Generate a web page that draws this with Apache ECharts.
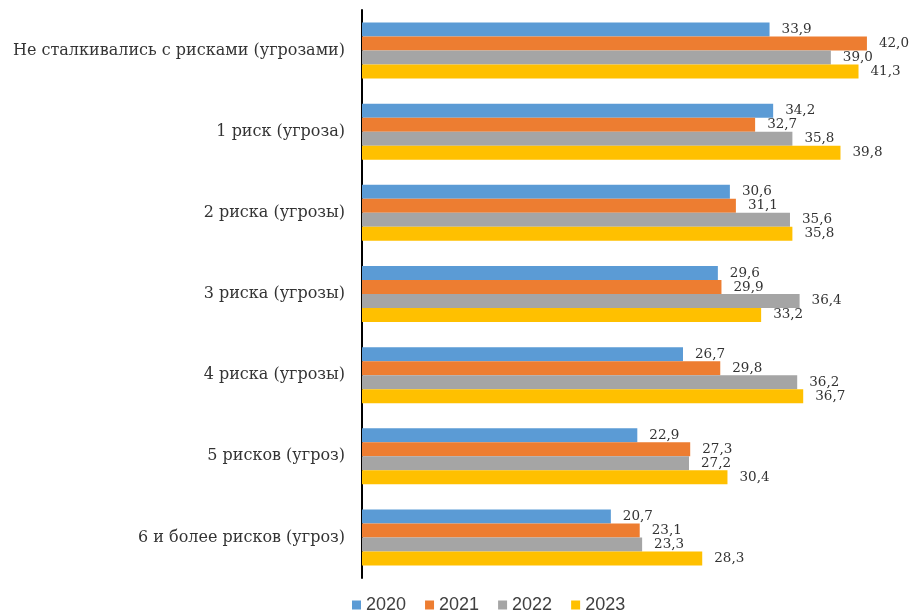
<!DOCTYPE html>
<html>
<head>
<meta charset="utf-8">
<script src="https://cdn.jsdelivr.net/npm/echarts@6/dist/echarts.min.js"></script>
<style>
  html, body { margin: 0; padding: 0; background: #fff; }
  #chart { width: 912px; height: 614px; }
</style>
</head>
<body>
<div id="chart"></div>
<script>
var categories = [
  'Не сталкивались с рисками (угрозами)',
  '1 риск (угроза)',
  '2 риска (угрозы)',
  '3 риска (угрозы)',
  '4 риска (угрозы)',
  '5 рисков (угроз)',
  '6 и более рисков (угроз)'
];
var years = ['2020', '2021', '2022', '2023'];
var colors = ['#5b9bd5', '#ed7d31', '#a5a5a5', '#ffc000'];
var v2020 = [33.9, 34.2, 30.6, 29.6, 26.7, 22.9, 20.7];
var v2021 = [42.0, 32.7, 31.1, 29.9, 29.8, 27.3, 23.1];
var v2022 = [39.0, 35.8, 35.6, 36.4, 36.2, 27.2, 23.3];
var v2023 = [41.3, 39.8, 35.8, 33.2, 36.7, 30.4, 28.3];
var values = [v2020, v2021, v2022, v2023];

var mychart = echarts.init(document.getElementById('chart'));

var series = [];
for (var i = 0; i < years.length; i++) {
  series.push({
    name: years[i],
    type: 'bar',
    data: values[i],
    barGap: '0%',
    barCategoryGap: '31%',
    itemStyle: { color: colors[i] },
    label: {
      show: true,
      position: 'right',
      distance: 12,
      color: '#333',
      fontFamily: 'DejaVu Serif',
      fontSize: 13.5,
      formatter: function(p) {
        return p.value.toFixed(1).replace('.', ',');
      }
    }
  });
}

var options = {
  animation: false,
  color: colors,
  grid: { left: 362, right: 9, top: 10, bottom: 36 },
  legend: {
    data: years,
    top: 591,
    left: 347,
    itemWidth: 9,
    itemHeight: 9,
    itemGap: 19,
    icon: 'rect',
    textStyle: { fontFamily: 'Liberation Sans', fontSize: 18, color: '#404040' }
  },
  xAxis: {
    type: 'value',
    min: 0,
    max: 45,
    show: false
  },
  yAxis: {
    type: 'category',
    data: categories,
    inverse: true,
    axisLine: { show: true, lineStyle: { color: '#000', width: 2 } },
    axisTick: { show: false },
    axisLabel: {
      margin: 17,
      color: '#333',
      fontFamily: 'DejaVu Serif',
      fontSize: 16
    }
  },
  series: series
};
mychart.setOption(options);
</script>
</body>
</html>
